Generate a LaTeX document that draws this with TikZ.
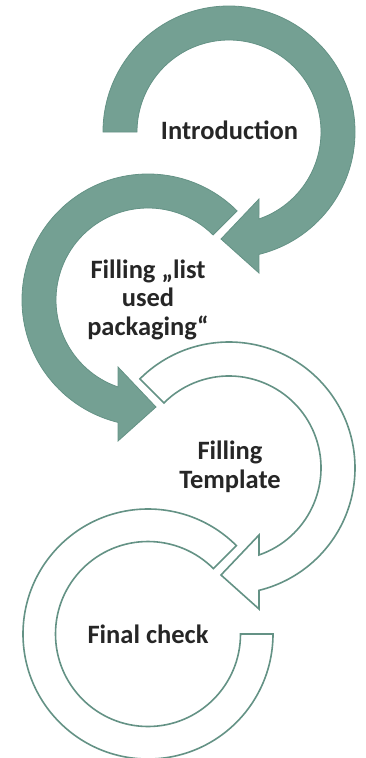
\documentclass[tikz,border=0pt]{standalone}
\usepackage{fontspec}
\setmainfont{Carlito}
\definecolor{tealfill}{RGB}{116,160,147}
\definecolor{tealline}{RGB}{100,146,133}
\definecolor{txtcol}{RGB}{38,38,38}
\tikzset{
  solidarrow/.style={fill=tealfill, draw=tealline, line width=0.8pt, line join=miter},
  openarrow/.style={fill=white, draw=tealline, line width=1.6pt, line join=miter},
  lbl/.style={font=\bfseries\fontsize{26.5}{28.5}\selectfont, text=txtcol, align=center, inner sep=0pt}
}
\begin{document}
\begin{tikzpicture}[x=1pt,y=1pt]
\useasboundingbox (0,0) rectangle (365,-758);
% circle 4 (last)
\begin{scope}[shift={(148,-634)}]
\draw[openarrow] (45:125) arc[start angle=45,end angle=360,radius=125] -- (0:92.5)
  arc[start angle=360,end angle=45,radius=92.5] -- cycle;
\end{scope}
% circle 3
\begin{scope}[shift={(229,-468)}]
\draw[openarrow] (135:126) arc[start angle=135,end angle=-76.23,radius=126] -- (30,-141) -- (-8,-107) -- (30,-67)
  -- (-70.97:92) arc[start angle=-70.97,end angle=135,radius=92] -- cycle;
\end{scope}
% circle 2
\begin{scope}[shift={(148,-300)}]
\draw[solidarrow] (45:126) arc[start angle=45,end angle=256.23,radius=126] -- (-30,-141) -- (8,-107) -- (-30,-67)
  -- (250.97:92) arc[start angle=250.97,end angle=45,radius=92] -- cycle;
\end{scope}
% circle 1
\begin{scope}[shift={(229,-132)}]
\draw[solidarrow] (180:126) arc[start angle=180,end angle=-76.23,radius=126] -- (30,-141) -- (-8,-107) -- (30,-67)
  -- (-70.97:92) arc[start angle=-70.97,end angle=180,radius=92] -- cycle;
\end{scope}
\node[lbl, anchor=base] (intro) at (229.5,-139) {Introduction};
\node[lbl, anchor=base] (packing) at (148,-335) {Filling „list\\used\\packaging“};
\node[lbl, anchor=base] (template) at (230,-488) {Filling\\Template};
\node[lbl, anchor=base] (final) at (148,-643) {Final check};
\end{tikzpicture}
\end{document}
